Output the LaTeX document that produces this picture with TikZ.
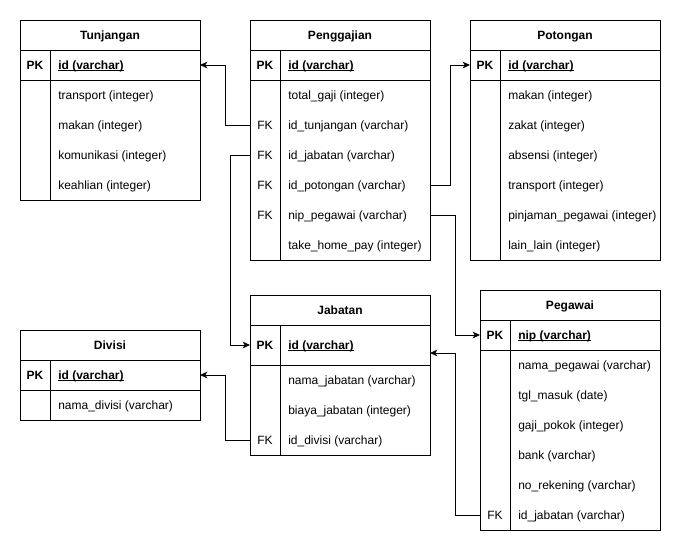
\documentclass[tikz,border=0pt]{standalone}
\usepackage{fontspec}
\setmainfont{Liberation Sans}
\usetikzlibrary{fit,arrows.meta}

\tikzset{
  line/.style={draw=black, line width=0.75pt},
  cell/.style={inner sep=0pt, outer sep=0pt, draw=none},
  txt/.style={font=\fontsize{9pt}{11pt}\selectfont, text=black, inner sep=0pt,
    text height=8.15pt, text depth=1.9pt},
  title/.style={txt, font=\bfseries\fontsize{9pt}{11pt}\selectfont},
  key/.style={txt},
  pkkey/.style={txt, font=\bfseries\fontsize{9pt}{11pt}\selectfont},
  field/.style={txt, anchor=west},
  pkfield/.style={field, font=\bfseries\fontsize{9pt}{11pt}\selectfont},
  fk/.style={line, -{Stealth[length=5.5pt,width=5pt,inset=1.5pt]}},
}

% underline drawn just under the baseline
\newcommand\keyline[1]{\setbox0\hbox{#1}\rlap{\rule[-1.3pt]{\wd0}{0.6pt}}\box0}

% #1 name, #2 left, #3 top, #4 right, #5 title, #6 PK row height,
% #7 PK field, #8 rows key/field, #9 bottom
\newcommand\ertable[9]{%
  \node[cell, fit={(#2,#3) (#4,#3+30)}] (#1-head) {};
  \node[title] at (#1-head.center) {#5};
  \node[cell, fit={(#2,#3+30) (#4,#3+30+#6)}] (#1-pk) {};
  \path (#1-pk.west) ++(15,0) node[pkkey] {PK} ++(23,0) node[pkfield] {\keyline{#7}};
  \foreach \k/\f [count=\i] in {#8} {
    \pgfmathsetmacro\ry{#3+30+#6+(\i-1)*30}
    \node[cell, fit={(#2,\ry) (#4,\ry+30)}] (#1-\i) {};
    \path (#1-\i.west) ++(15,0) node[key] {\k} ++(23,0) node[field] {\f};
  }
  \draw[line] (#2,#3) rectangle (#4,#9);
  \draw[line] (#2,#3+30) -- (#4,#3+30);
  \draw[line] (#2,#3+30+#6) -- (#4,#3+30+#6);
  \draw[line] (#2+30,#3+30) -- (#2+30,#9);
}

\begin{document}
\begin{tikzpicture}[x=0.75pt, y=-0.75pt]
  \useasboundingbox (0,0) rectangle (681,551);

  \ertable{tun}{20}{20}{200}{Tunjangan}{30}{id (varchar)}
    {/transport (integer), /makan (integer), /komunikasi (integer), /keahlian (integer)}{200}

  \ertable{pg}{250}{20}{430}{Penggajian}{30}{id (varchar)}
    {/total\_gaji (integer), FK/id\_tunjangan (varchar), FK/id\_jabatan (varchar),
     FK/id\_potongan (varchar), FK/nip\_pegawai (varchar), /take\_home\_pay (integer)}{260}

  \ertable{pot}{470}{20}{660}{Potongan}{30}{id (varchar)}
    {/makan (integer), /zakat (integer), /absensi (integer), /transport (integer),
     /pinjaman\_pegawai (integer), /lain\_lain (integer)}{260}

  \ertable{div}{20}{330}{200}{Divisi}{30}{id (varchar)}
    {/nama\_divisi (varchar)}{420}

  \ertable{jab}{250}{295}{430}{Jabatan}{40}{id (varchar)}
    {/nama\_jabatan (varchar), /biaya\_jabatan (integer), FK/id\_divisi (varchar)}{455}

  \ertable{peg}{480}{290}{660}{Pegawai}{30}{nip (varchar)}
    {/nama\_pegawai (varchar), /tgl\_masuk (date), /gaji\_pokok (integer),
     /bank (varchar), /no\_rekening (varchar), FK/id\_jabatan (varchar)}{530}

  % foreign keys
  \coordinate (jab-in) at ([yshift=-6pt]jab-pk.east);
  \draw[fk] (pg-2.west) -- ++(-25,0) |- (tun-pk.east);
  \draw[fk] (pg-3.west) -- ++(-20,0) |- (jab-pk.west);
  \draw[fk] (pg-4.east) -- ++(20,0) |- (pot-pk.west);
  \draw[fk] (pg-5.east) -- ++(25,0) |- (peg-pk.west);
  \draw[fk] (jab-3.west) -- ++(-25,0) |- (div-pk.east);
  \draw[fk] (peg-6.west) -- ++(-25,0) |- (jab-in);
\end{tikzpicture}
\end{document}
